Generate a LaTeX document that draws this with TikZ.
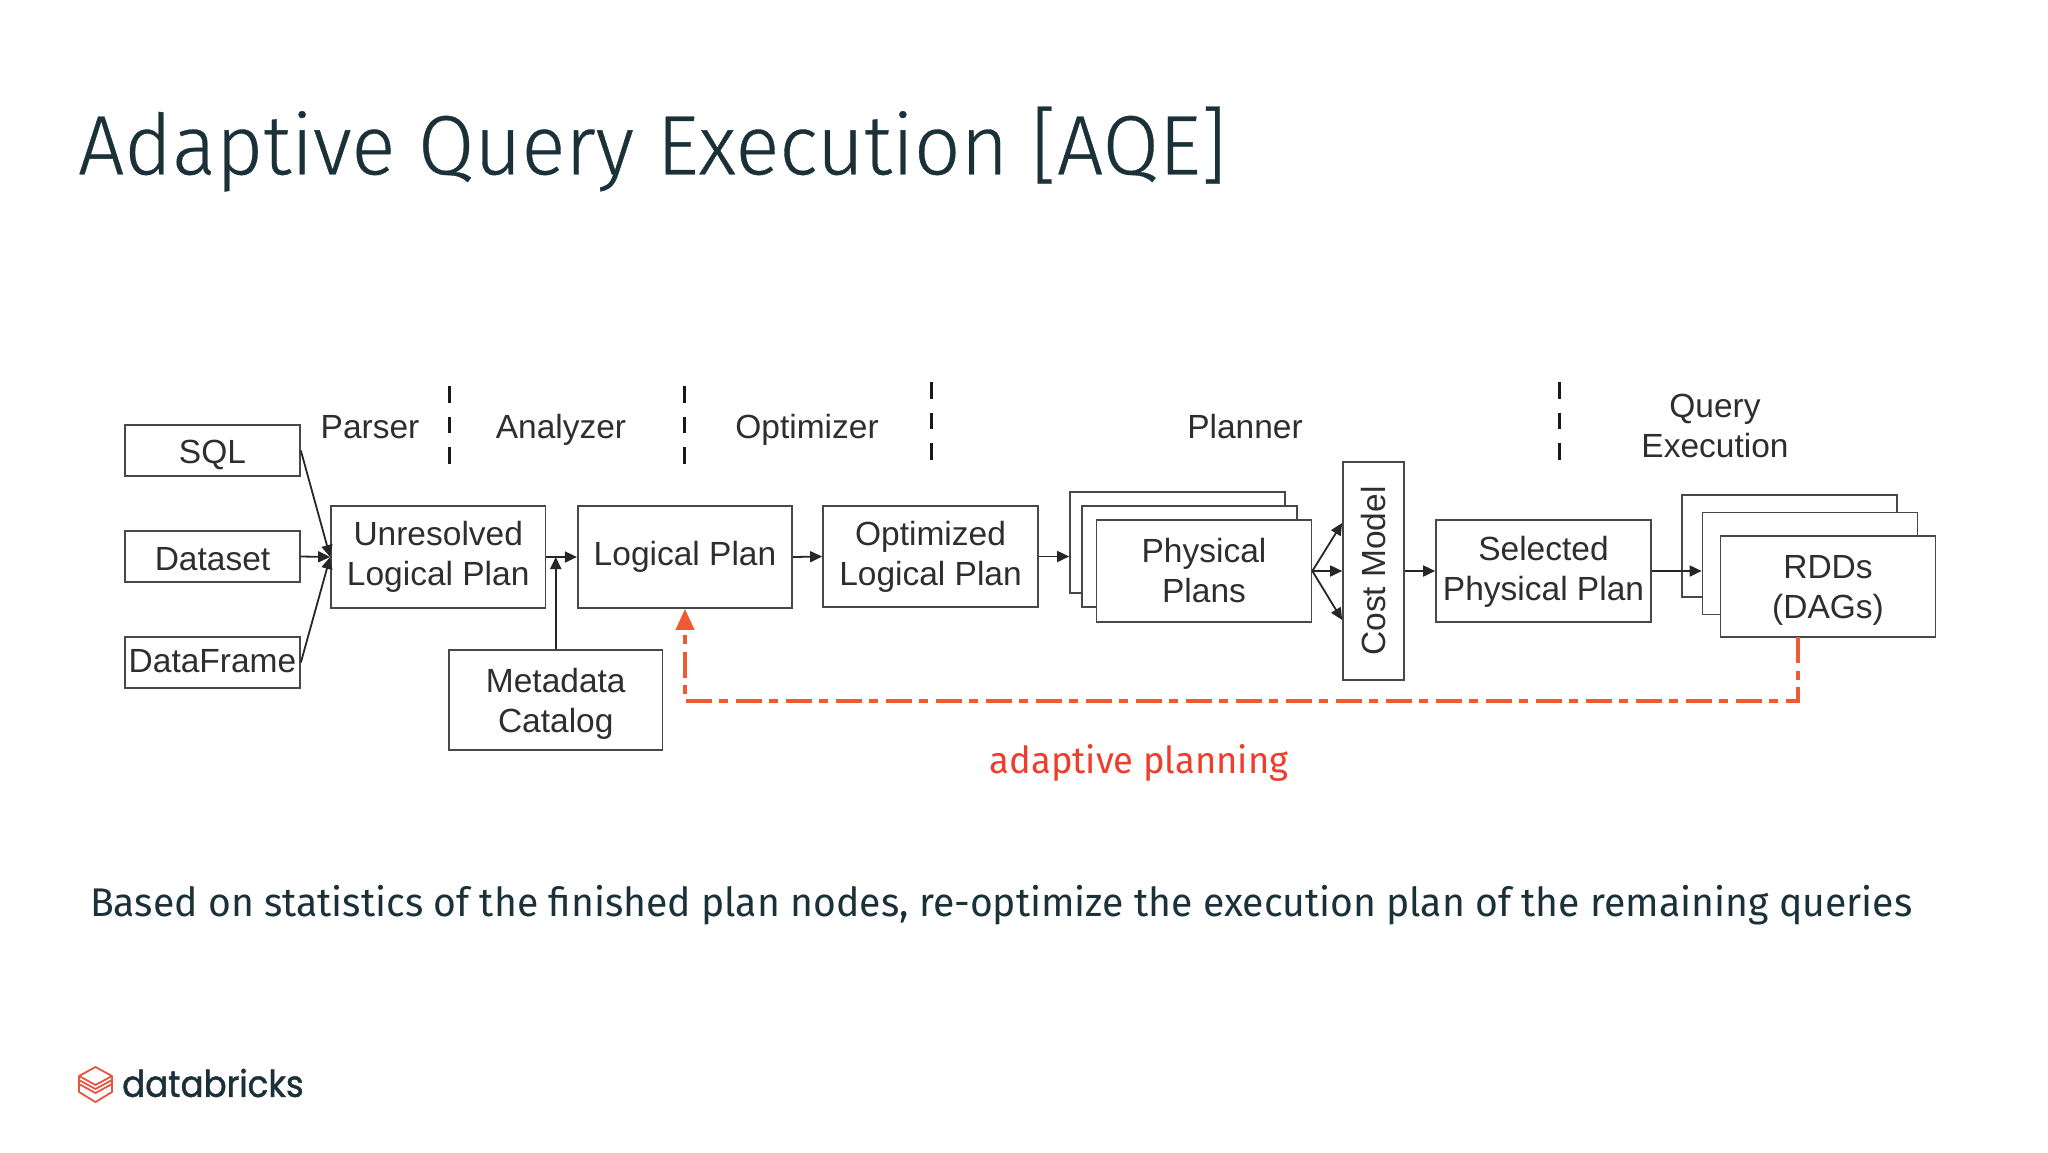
\documentclass[tikz,border=0pt]{standalone}
\usepackage{fontspec}
\usepackage{graphicx}
\setmainfont{Liberation Sans}
\newfontfamily\titlefont[FakeStretch=0.972,FakeBold=0.4,UprightFont=* Light]{Fira Sans}
\newfontfamily\bodyfont[FakeStretch=0.978]{Fira Sans}
\newfontfamily\logofont[FakeBold=1.2,FakeStretch=0.92]{Poppins}
\usetikzlibrary{arrows.meta}
\definecolor{inkdark}{HTML}{1B3139}
\definecolor{boxline}{HTML}{484848}
\definecolor{boxtext}{HTML}{2E2E2E}
\definecolor{adapt}{HTML}{EF5A32}
\definecolor{adapttext}{HTML}{EE3D2B}
\definecolor{logored}{HTML}{E8553F}
\tikzset{
  base/.style={text height={16pt+#1},text depth={16pt-#1}},
  mbase/.style={text height={40pt+#1},text depth={40pt-#1}},
  boxnode/.style={draw=boxline,line width=1.7pt,fill=white,inner sep=0pt,align=center,
    text=boxtext,font=\fontsize{33.5}{40}\selectfont},
  phase/.style={inner sep=0pt,align=center,text=boxtext,font=\fontsize{33.5}{40}\selectfont},
  flow/.style={draw=black!85,line width=1.8pt,-{Triangle[length=12pt,width=11pt]}},
  separator/.style={draw=black!90,line width=3pt,dash pattern=on 16.5pt off 14pt},
  adaptline/.style={draw=adapt,line width=4pt,dash pattern=on 26pt off 8pt on 9pt off 7pt,
    -{Triangle[length=21pt,width=18pt]}},
  logoline/.style={draw=logored,line width=1.8pt,line join=round}
}
\begin{document}
\begin{tikzpicture}[x=1pt,y=-1pt]
\useasboundingbox (0,0) rectangle (2048,1152);
\node[inner sep=0pt,text=inkdark,anchor=west] (title) at (78,149)
  {\titlefont\fontsize{84}{90}\selectfont Adaptive Query Execution [AQE]};

\node[phase,base=8.5pt] (parser) at (370,429.5) {Parser};
\node[phase,base=8.5pt] (analyzer) at (561,429.5) {Analyzer};
\node[phase,base=8.5pt] (optimizer) at (807,429.5) {Optimizer};
\node[phase,base=8.5pt] (planner) at (1245,429.5) {Planner};
\node[phase,mbase=28.5pt] (queryexec) at (1715,428.5) {Query\\Execution};

\coordinate (s1a) at (449,386); \coordinate (s1b) at (449,464);
\coordinate (s2a) at (684,386); \coordinate (s2b) at (684,464);
\coordinate (s3a) at (931,382); \coordinate (s3b) at (931,460);
\coordinate (s4a) at (1559,382); \coordinate (s4b) at (1559,460);
\draw[separator] (s1a) -- (s1b);
\draw[separator] (s2a) -- (s2b);
\draw[separator] (s3a) -- (s3b);
\draw[separator] (s4a) -- (s4b);

\node[boxnode,base=12.5pt,minimum width=175pt,minimum height=51pt] (sql) at (212.5,450.5) {SQL};
\node[boxnode,base=13.5pt,minimum width=175pt,minimum height=51pt] (dataset) at (212.5,556.5) {Dataset};
\node[boxnode,base=10pt,minimum width=175pt,minimum height=51pt] (dataframe) at (212.5,662.5) {DataFrame};
\node[boxnode,mbase=28pt,minimum width=214.5pt,minimum height=102pt] (unres) at (438.25,557) {Unresolved\\Logical Plan};
\node[boxnode,base=8pt,minimum width=214.5pt,minimum height=102pt] (logical) at (685,557) {Logical Plan};
\node[boxnode,mbase=32pt,minimum width=213.5pt,minimum height=100pt] (meta) at (555.75,700) {Metadata\\Catalog};
\node[boxnode,mbase=28.5pt,minimum width=215pt,minimum height=101pt] (opt) at (930.5,556.5) {Optimized\\Logical Plan};
\node[boxnode,minimum width=215pt,minimum height=101pt] (pback) at (1177.5,542.5) {};
\node[boxnode,minimum width=215pt,minimum height=101pt] (pmid) at (1189.5,556.5) {};
\node[boxnode,mbase=31pt,minimum width=215pt,minimum height=102pt] (pfront) at (1204,571) {Physical\\Plans};
\node[boxnode,minimum width=61pt,minimum height=218pt] (cost) at (1373.5,571) {\rotatebox{90}{Cost Model}};
\node[boxnode,mbase=29pt,minimum width=215pt,minimum height=102pt] (sel) at (1543.5,571) {Selected\\Physical Plan};
\node[boxnode,minimum width=215pt,minimum height=102pt] (rback) at (1789.5,546) {};
\node[boxnode,minimum width=215pt,minimum height=102pt] (rmid) at (1810,563.5) {};
\node[boxnode,mbase=31.5pt,minimum width=215pt,minimum height=101pt] (rfront) at (1828,586.5) {RDDs\\(DAGs)};

\draw[flow] (sql.east) -- (unres.west);
\draw[flow] (dataset.east) -- (unres.west);
\draw[flow] (dataframe.east) -- (unres.west);
\draw[flow] (unres.east) -- (logical.west);
\draw[flow] (meta.north) -- (meta.north |- unres.east);
\draw[flow] (logical.east) -- (opt.west);
\draw[flow] (opt.east) -- (opt.east -| pback.west);
\draw[flow] (pfront.east) -- ([yshift=48pt]cost.west);
\draw[flow] (pfront.east) -- (cost.west);
\draw[flow] (pfront.east) -- ([yshift=-49pt]cost.west);
\draw[flow] (cost.east) -- (sel.west);
\draw[flow] (sel.east) -- (sel.east -| rmid.west);

\coordinate (rstart) at (1798,637);
\coordinate (rcorner) at (1798,701);
\draw[adaptline] (rstart) -- (rcorner) -| (logical.south);
\node[inner sep=0pt,text=adapttext] (adaptlabel) at (1139,763)
  {\bodyfont\fontsize{37.2}{44}\selectfont adaptive planning};

\node[inner sep=0pt,text=inkdark,anchor=west] (body) at (90,905)
  {\bodyfont\fontsize{40}{46}\selectfont Based on statistics of the finished plan nodes, re-optimize the execution plan of the remaining queries};

\node[inner sep=0pt,text=inkdark,anchor=west] (brand) at (122,1083)
  {\logofont\fontsize{37}{44}\selectfont databricks};
\draw[logoline] (95.5,1067) -- (112,1076) -- (95.5,1085) -- (79,1076) -- cycle;
\draw[logoline] (79,1076) -- (79,1084) -- (95.5,1093) -- (112,1084) -- (112,1076);
\draw[logoline] (79,1084) -- (79,1092) -- (95.5,1102) -- (112,1092) -- (112,1084);
\draw[logoline] (79,1080) -- (95.5,1089) -- (112,1080);
\end{tikzpicture}
\end{document}
